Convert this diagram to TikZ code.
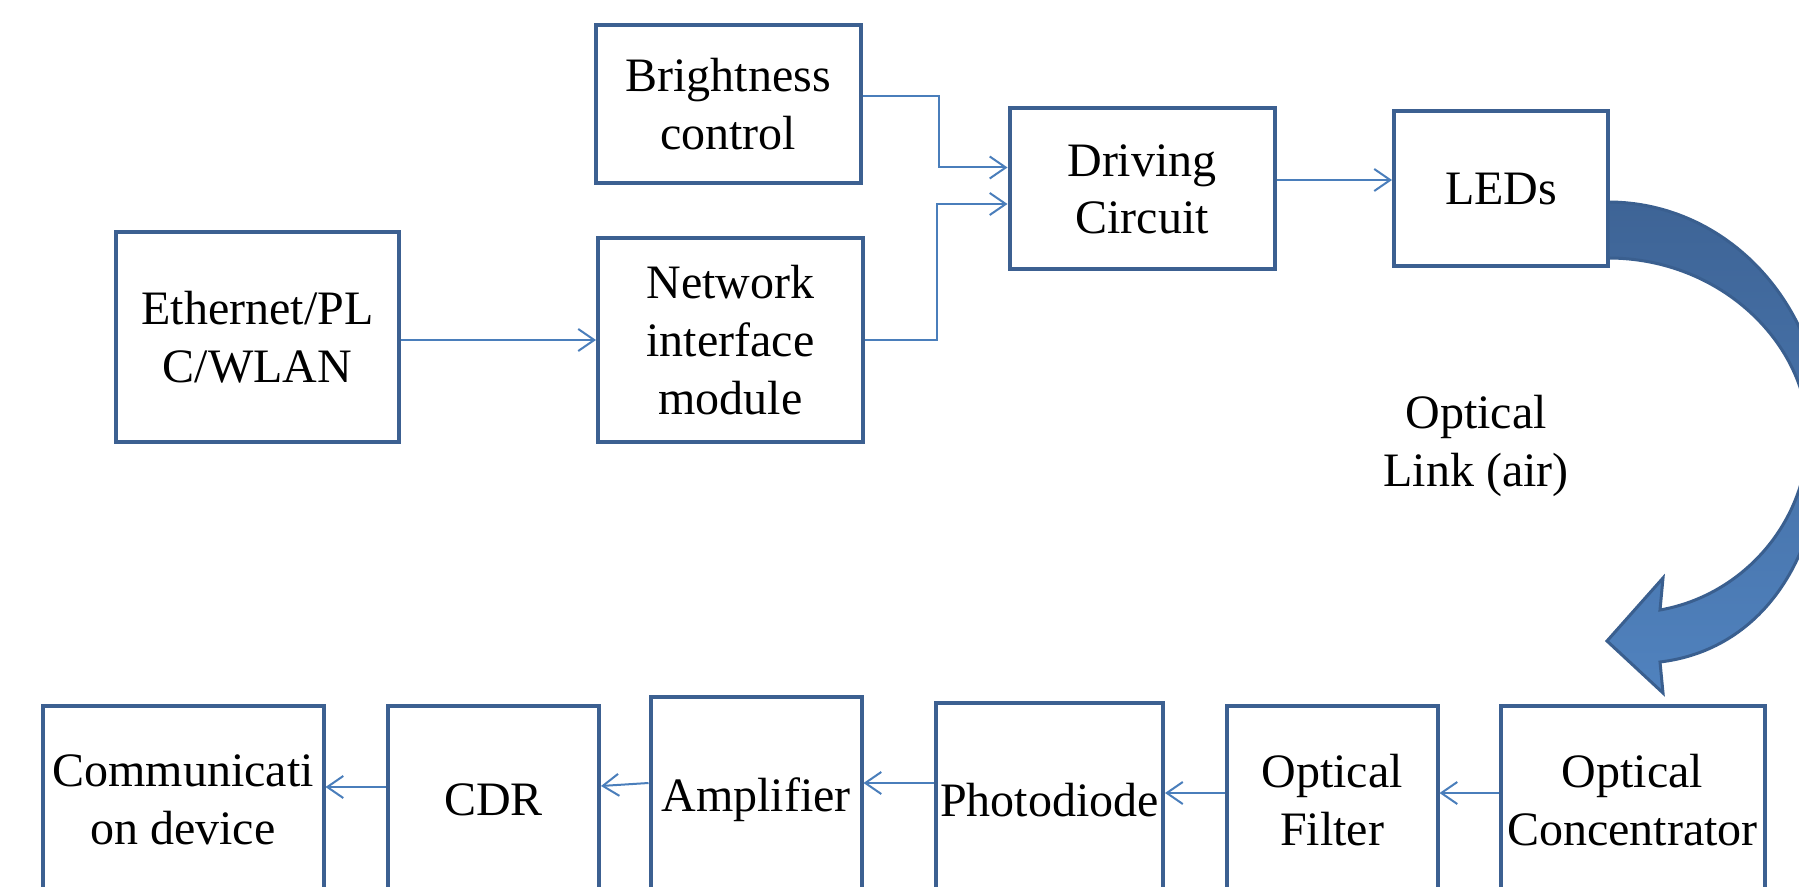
\documentclass[tikz,border=0pt]{standalone}
\usepackage{fontspec}
\setmainfont{Liberation Serif}
\usetikzlibrary{arrows.meta}
\definecolor{boxc}{RGB}{60,96,145}
\definecolor{connc}{RGB}{74,126,187}
\definecolor{arrc}{RGB}{58,95,143}
\definecolor{arrtop}{RGB}{62,100,150}
\definecolor{arrbot}{RGB}{80,130,190}
\begin{document}
\begin{tikzpicture}[x=0.5pt,y=-0.5pt,
  blk/.style={draw=boxc,line width=2pt,fill=white,align=center,inner sep=0pt,
    font=\fontsize{24}{28.8}\selectfont},
  lbl/.style={align=center,inner sep=0pt,font=\fontsize{24}{28.8}\selectfont},
  conn/.style={draw=connc,line width=1pt,
    -{Straight Barb[length=8pt,width=11pt,line width=1pt]}}]
\useasboundingbox (0,0) rectangle (1799,887);
\clip (0,0) rectangle (1799,887);

% top part
\node[blk,minimum width=132.5pt,minimum height=79pt] (bright) at (728,104) {Brightness\\control};
\node[blk,minimum width=132.5pt,minimum height=80.5pt] (drv) at (1142,189) {\raisebox{0pt}[16.4pt][0pt]{}Driving\\Circuit};
\node[blk,minimum width=107pt,minimum height=77.5pt] (leds) at (1501,189) {LEDs};
\node[blk,minimum width=141.5pt,minimum height=105pt] (eth) at (257.5,337) {Ethernet/PL\\C/WLAN};
\node[blk,minimum width=132.5pt,minimum height=102pt] (net) at (730.5,340) {Network\\interface\\module};

% bottom row
\node[blk,minimum width=140.5pt,minimum height=94pt] (comm) at (183,800) {Communicati\\on device};
\node[blk,minimum width=105.5pt,minimum height=94pt] (cdr) at (493.5,800) {CDR};
\node[blk,minimum width=105.5pt,minimum height=103pt] (amp) at (756,800) {Amplifier};
\node[blk,minimum width=113.5pt,minimum height=97pt] (photo) at (1049.5,800) {Photodiode};
\node[blk,minimum width=105.5pt,minimum height=94pt] (filt) at (1332,800) {Optical\\Filter};
\node[blk,minimum width=132pt,minimum height=94pt] (conc) at (1632.6,800) {Optical\\Concentrator};

% label
\node[lbl] (link) at (1476,446) {Optical\\Link (air)};

% connectors top
\draw[conn] (eth.east |- net.west) -- (net.west);
\draw[conn] ([yshift=3.8pt]bright.east) -- ++(76,0) |- ([yshift=10.75pt]drv.west);
\draw[conn] (net.east) -- ++(72,0) |- ([yshift=-7.5pt]drv.west);
\draw[conn] ([yshift=4.5pt]drv.east) -- ([yshift=4.5pt]leds.west);

% connectors bottom
\draw[conn] ([yshift=3.5pt]conc.west) -- ([yshift=3.5pt]filt.east);
\draw[conn] ([yshift=3.5pt]filt.west) -- ([yshift=3.5pt]photo.east);
\draw[conn] ([yshift=8.5pt]photo.west) -- ([yshift=8.5pt]amp.east);
\draw[conn] ([yshift=8.5pt]amp.west) -- ([yshift=7pt]cdr.east);
\draw[conn] ([yshift=6.5pt]cdr.west) -- ([yshift=6.5pt]comm.east);

% big curved arrow (optical link)
\path[draw=arrc,line width=1.5pt,line join=miter,top color=arrtop,bottom color=arrbot]
  (1608,202) .. controls (1727,202) and (1823,305) .. (1823,433)
  .. controls (1823,560) and (1760,650) .. (1660,662)
  -- (1663,693) -- (1607,641) -- (1663,578) -- (1660,610)
  .. controls (1745,595) and (1808,520) .. (1808,435)
  .. controls (1808,345) and (1722,258) .. (1608,258) -- cycle;
\end{tikzpicture}
\end{document}
